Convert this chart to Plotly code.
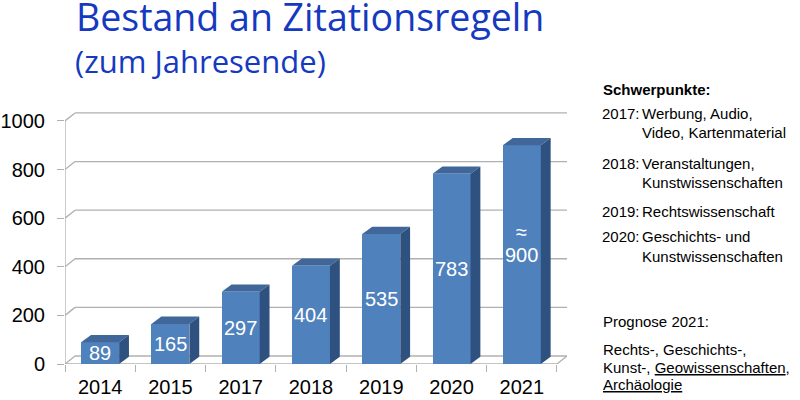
import plotly.graph_objects as go

# ---- data ----
years = ["2014", "2015", "2017", "2018", "2019", "2020", "2021"]
values = [89, 165, 297, 404, 535, 783, 900]
value_labels = ["89", "165", "297", "404", "535", "783", "900"]
approx_flags = [False, False, False, False, False, False, True]
y_ticks = [0, 200, 400, 600, 800, 1000]

title_line1 = "Bestand an Zitationsregeln"
title_line2 = "(zum Jahresende)"
side_heading = "Schwerpunkte:"
side_items = [
    ("2017:", ["Werbung, Audio,", "Video, Kartenmaterial"]),
    ("2018:", ["Veranstaltungen,", "Kunstwissenschaften"]),
    ("2019:", ["Rechtswissenschaft"]),
    ("2020:", ["Geschichts- und", "Kunstwissenschaften"]),
]
forecast_heading = "Prognose 2021:"
forecast_lines = ["Rechts-, Geschichts-,", "Kunst-, <u>Geowissenschaften</u>,", "<u>Archäologie</u>"]

# ---- layout geometry ----
W, H = 800, 400
ML, MR, MT, MB = 65, 233, 110, 36
PW, PH = W - ML - MR, H - MT - MB
Y_MAX = 1045
n = len(years)
DXW = 0.1425   # back-wall depth in category units
DYW = 33       # back-wall depth in value units
DXB = 0.14     # bar depth
DYB = 30
HALF = 0.27

FRONT = "#4F81BD"
TOP = "#41679A"
SIDE = "#2F5180"
GRID = "#B0B0B0"
FONT = "Liberation Sans, Arial, sans-serif"
TFONT = "Open Sans, sans-serif"
TCOL = "#1539C0"

def pxx(px):
    return (px - ML) / PW

def pxy(py):
    return (H - MB - py) / PH

fig = go.Figure()

fig.add_trace(go.Bar(
    x=list(range(n)), y=values, width=2 * HALF,
    marker=dict(color=FRONT, line=dict(width=0)),
    hoverinfo="skip", showlegend=False,
))

for i, v in enumerate(values):
    l, r = i - HALF, i + HALF
    fig.add_trace(go.Scatter(
        x=[l, r, r + DXB, l + DXB, l], y=[v, v, v + DYB, v + DYB, v],
        fill="toself", fillcolor=TOP, mode="lines", line=dict(width=0, color=TOP),
        hoverinfo="skip", showlegend=False,
    ))
    fig.add_trace(go.Scatter(
        x=[r, r + DXB, r + DXB, r, r], y=[0, DYB, v + DYB, v, 0],
        fill="toself", fillcolor=SIDE, mode="lines", line=dict(width=0, color=SIDE),
        hoverinfo="skip", showlegend=False,
    ))

shapes = []
x0, x1 = -0.5, n - 0.5
for t in y_ticks:
    shapes.append(dict(type="line", layer="below", xref="x", yref="y",
                       x0=x0 + DXW, x1=x1 + DXW, y0=t + DYW, y1=t + DYW,
                       line=dict(color=GRID, width=1.3)))
    shapes.append(dict(type="line", layer="below", xref="x", yref="y",
                       x0=x0, x1=x0 + DXW, y0=t, y1=t + DYW,
                       line=dict(color=GRID, width=1.3)))
shapes.append(dict(type="line", layer="below", xref="x", yref="y",
                   x0=x0, x1=x0, y0=0, y1=y_ticks[-1],
                   line=dict(color=GRID, width=1.3)))
shapes.append(dict(type="line", layer="below", xref="x", yref="y",
                   x0=x0, x1=x1, y0=0, y1=0, line=dict(color=GRID, width=1.3)))
shapes.append(dict(type="line", layer="below", xref="x", yref="y",
                   x0=x1, x1=x1 + DXW, y0=0, y1=DYW, line=dict(color=GRID, width=1.3)))

annotations = []
for i, (v, lab, ap) in enumerate(zip(values, value_labels, approx_flags)):
    annotations.append(dict(x=i, y=v / 2, xref="x", yref="y", text=lab, showarrow=False,
                            font=dict(family=FONT, size=20, color="white"),
                            xanchor="center", yanchor="middle"))
    if ap:
        annotations.append(dict(x=i, y=v / 2 + 95, xref="x", yref="y", text="≈", showarrow=False,
                                font=dict(family=FONT, size=20, color="white"),
                                xanchor="center", yanchor="middle"))

annotations.append(dict(x=pxx(74), y=pxy(16), xref="paper", yref="paper", text=title_line1,
                        showarrow=False, xanchor="left", yanchor="middle",
                        font=dict(family=TFONT, size=37.5, color=TCOL)))
annotations.append(dict(x=pxx(73), y=pxy(61), xref="paper", yref="paper", text=title_line2,
                        showarrow=False, xanchor="left", yanchor="middle",
                        font=dict(family=TFONT, size=31, color=TCOL)))

def side(text, px, py, bold=False):
    annotations.append(dict(x=pxx(px), y=pxy(py), xref="paper", yref="paper",
                            text=("<b>%s</b>" % text) if bold else text,
                            showarrow=False, xanchor="left", yanchor="middle",
                            font=dict(family=FONT, size=15, color="black")))

side(side_heading, 601, 90, bold=True)
item_y = [[113, 132], [163, 182], [211], [236, 256]]
for (yr, lines), ys in zip(side_items, item_y):
    side(yr, 600, ys[0])
    for ln, yy in zip(lines, ys):
        side(ln, 640, yy)
side(forecast_heading, 601, 321)
for ln, yy in zip(forecast_lines, [349, 367, 384]):
    side(ln, 601, yy)

fig.update_layout(
    width=W, height=H,
    margin=dict(l=ML, r=MR, t=MT, b=MB, autoexpand=False),
    paper_bgcolor="white", plot_bgcolor="white",
    shapes=shapes, annotations=annotations,
    showlegend=False, bargap=0,
    xaxis=dict(range=[x0, x1 + DXW], tickvals=list(range(n)), ticktext=years,
               showgrid=False, zeroline=False, showline=False, ticks="",
               automargin=False,
               tickfont=dict(family=FONT, size=20, color="black"),
               ticklabelstandoff=9,
               minor=dict(tick0=-0.5, dtick=1, ticks="outside", ticklen=7,
                          tickcolor=GRID, tickwidth=1.3, showgrid=False),
               fixedrange=True),
    yaxis=dict(range=[0, Y_MAX], tickvals=y_ticks, ticktext=[str(t) for t in y_ticks],
               showgrid=False, zeroline=False, showline=False, automargin=False,
               ticks="outside", ticklen=7, tickcolor=GRID, tickwidth=1.3,
               ticklabelstandoff=8,
               tickfont=dict(family=FONT, size=20, color="black"),
               fixedrange=True),
)

fig.write_html("out.html")
